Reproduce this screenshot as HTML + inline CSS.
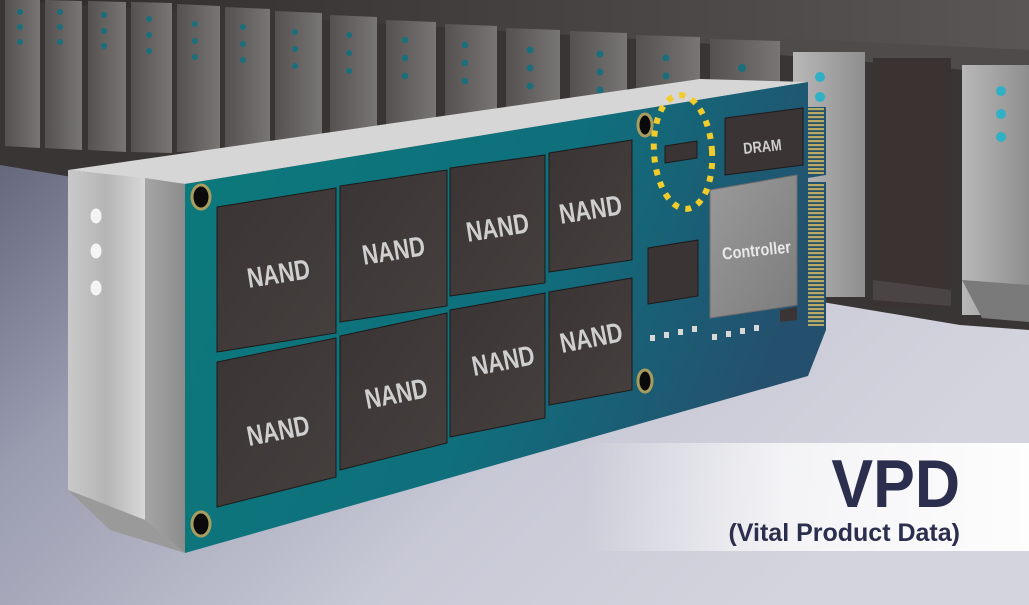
<!DOCTYPE html>
<html><head><meta charset="utf-8"><style>
html,body{margin:0;padding:0;width:1029px;height:605px;overflow:hidden;background:#c8c9d4}
svg{display:block}
text{font-family:"Liberation Sans",sans-serif;font-weight:bold}
</style></head><body>
<svg width="1029" height="605" viewBox="0 0 1029 605" xmlns="http://www.w3.org/2000/svg">
<defs>
<linearGradient id="floor" x1="0" y1="0" x2="1" y2="0.6">
<stop offset="0" stop-color="#4a4d62"/><stop offset="0.35" stop-color="#9a9cb0"/><stop offset="0.7" stop-color="#c8c9d6"/><stop offset="1" stop-color="#d4d4de"/>
</linearGradient>
<linearGradient id="ceil" x1="0" y1="0" x2="1" y2="0">
<stop offset="0" stop-color="#302b2b"/><stop offset="1" stop-color="#5a5656"/>
</linearGradient>
<linearGradient id="slat" x1="0" y1="0" x2="1" y2="0">
<stop offset="0" stop-color="#555151"/><stop offset="1" stop-color="#787575"/>
</linearGradient>
<linearGradient id="slatR" x1="0" y1="0" x2="1" y2="0">
<stop offset="0" stop-color="#b8b8b8"/><stop offset="1" stop-color="#8e8e8e"/>
</linearGradient>
<linearGradient id="pcb" x1="0" y1="0" x2="1" y2="0.3">
<stop offset="0" stop-color="#0c7a7c"/><stop offset="0.6" stop-color="#0f6f7c"/><stop offset="1" stop-color="#24506e"/>
</linearGradient>
<linearGradient id="metal" x1="0" y1="0" x2="1" y2="0">
<stop offset="0" stop-color="#c9c9c9"/><stop offset="0.5" stop-color="#b5b5b5"/><stop offset="1" stop-color="#d8d8d8"/>
</linearGradient>
<linearGradient id="metal2" x1="0" y1="0" x2="1" y2="0">
<stop offset="0" stop-color="#a5a5a5"/><stop offset="1" stop-color="#8c8c8c"/>
</linearGradient>
<linearGradient id="chip" x1="0" y1="0" x2="1" y2="1">
<stop offset="0" stop-color="#3a3534"/><stop offset="1" stop-color="#453f3e"/>
</linearGradient>
<linearGradient id="vpd" x1="0" y1="0" x2="1" y2="0">
<stop offset="0" stop-color="#ffffff" stop-opacity="0"/><stop offset="0.45" stop-color="#ffffff" stop-opacity="0.75"/><stop offset="1" stop-color="#ffffff" stop-opacity="0.95"/>
</linearGradient>
<linearGradient id="ctrl" x1="0" y1="0" x2="1" y2="1">
<stop offset="0" stop-color="#9a9a9a"/><stop offset="1" stop-color="#7c7c7c"/>
</linearGradient>
<pattern id="fing" width="6" height="4" patternUnits="userSpaceOnUse">
<rect width="6" height="4" fill="#2a4f68"/><rect width="6" height="2.2" fill="#b7ab63"/>
</pattern>
</defs>

<rect width="1029" height="605" fill="url(#floor)"/>
<polygon points="0,0 1029,0 1029,330 960,325 870,310 0,165" fill="#3a3535"/>
<polygon points="0,0 1029,0 1029,70 780,48 0,0" fill="url(#ceil)"/>
<g fill="url(#slat)">
<polygon points="5,0 40,0 40,148 5,146"/>
<polygon points="45,0 82,1 82,150 45,148"/>
<polygon points="88,1 126,2 126,152 88,150"/>
<polygon points="131,2 172,3 172,153 131,152"/>
<polygon points="177,4 220,6 220,150 177,152"/>
<polygon points="225,7 270,9 270,147 225,149"/>
<polygon points="275,11 322,13 322,144 275,146"/>
<polygon points="330,15 377,17 377,140 330,142"/>
<polygon points="386,20 436,22 436,140 386,140"/>
<polygon points="445,24 497,26 497,140 445,140"/>
<polygon points="506,28 560,30 560,140 506,140"/>
<polygon points="570,31 627,33 627,140 570,140"/>
<polygon points="636,35 700,37 700,140 636,140"/>
<polygon points="710,39 780,41 780,140 710,140"/>
</g>
<polygon points="780,38 1029,50 1029,75 780,55" fill="#4f4b4b"/>
<rect x="793" y="52" width="72" height="245" fill="url(#slatR)"/>
<rect x="873" y="58" width="78" height="248" fill="#3b3332"/>
<polygon points="873,280 951,290 951,306 873,300" fill="#4a4444"/>
<rect x="962" y="65" width="67" height="250" fill="url(#slatR)"/>
<polygon points="962,280 1029,285 1029,322 982,318" fill="#7a7a7a"/>
<g fill="#1b6f7a">
<circle cx="20" cy="12" r="3"/><circle cx="20" cy="27" r="3"/><circle cx="20" cy="42" r="3"/>
<circle cx="60" cy="12" r="3"/><circle cx="60" cy="27" r="3"/><circle cx="60" cy="42" r="3"/>
<circle cx="104" cy="15" r="3"/><circle cx="104" cy="31" r="3"/><circle cx="104" cy="46" r="3"/>
<circle cx="149" cy="19" r="3"/><circle cx="149" cy="35" r="3"/><circle cx="149" cy="51" r="3"/>
<circle cx="195" cy="24" r="3"/><circle cx="195" cy="41" r="3"/><circle cx="195" cy="57" r="3"/>
<circle cx="243" cy="27" r="3"/><circle cx="243" cy="44" r="3"/><circle cx="243" cy="60" r="3"/>
<circle cx="295" cy="32" r="3"/><circle cx="295" cy="49" r="3"/><circle cx="295" cy="66" r="3"/>
<circle cx="349" cy="35" r="3"/><circle cx="349" cy="53" r="3"/><circle cx="349" cy="71" r="3"/>
<circle cx="405" cy="40" r="3.3"/><circle cx="405" cy="58" r="3.3"/><circle cx="405" cy="76" r="3.3"/>
<circle cx="465" cy="45" r="3.3"/><circle cx="465" cy="63" r="3.3"/><circle cx="465" cy="81" r="3.3"/>
<circle cx="530" cy="50" r="3.5"/><circle cx="530" cy="68" r="3.5"/><circle cx="530" cy="86" r="3.5"/>
<circle cx="600" cy="54" r="3.5"/><circle cx="600" cy="72" r="3.5"/><circle cx="600" cy="90" r="3.5"/>
<circle cx="666" cy="58" r="3.5"/><circle cx="666" cy="76" r="3.5"/>
<circle cx="742" cy="68" r="4"/><circle cx="742" cy="87" r="4"/>
</g>
<g fill="#2fb0c4">
<circle cx="820" cy="77" r="5"/><circle cx="820" cy="97" r="5"/>
<circle cx="1001" cy="91" r="5"/><circle cx="1001" cy="114" r="5"/><circle cx="1001" cy="137" r="5"/>
</g>

<polygon points="68,170 185,184 808,82 700,79" fill="#d6d6d6"/>
<polygon points="68,170 145,178 145,520 68,490" fill="url(#metal)"/>
<polygon points="145,178 185,184 185,553 145,520" fill="url(#metal2)"/>
<polygon points="68,490 145,520 185,553 110,530" fill="#9a9a9a"/>
<g fill="#f4f4f4"><ellipse cx="96" cy="216" rx="5.5" ry="7.5"/><ellipse cx="96" cy="251" rx="5.5" ry="7.5"/><ellipse cx="96" cy="288" rx="5.5" ry="7.5"/></g>

<polygon points="185,184 808,82 808,107 826,107 826,175 808,178 808,182 826,182 826,330 808,376 185,553" fill="url(#pcb)"/>
<rect x="808" y="108" width="16" height="66" fill="url(#fing)"/>
<rect x="808" y="184" width="16" height="142" fill="url(#fing)"/>

<g stroke="#a89c5e" stroke-width="3" fill="#0a0a0a">
<ellipse cx="201" cy="197" rx="9" ry="12"/>
<ellipse cx="645" cy="125" rx="7" ry="11"/>
<ellipse cx="645" cy="381" rx="7" ry="11"/>
<ellipse cx="201" cy="524" rx="9" ry="12"/>
</g>

<g fill="url(#chip)" stroke="#1e1a1a" stroke-width="1">
<polygon points="217,207 336,188 336,333 217,352"/>
<polygon points="340,186 447,170 447,306 340,322"/>
<polygon points="450,168 545,155 545,283 450,296"/>
<polygon points="549,153 632,140 632,260 549,272"/>
<polygon points="217,362 336,338 336,477 217,507"/>
<polygon points="340,336 447,313 447,443 340,470"/>
<polygon points="450,310 545,293 545,418 450,437"/>
<polygon points="549,292 632,278 632,390 549,405"/>
</g>
<g fill="#cfcfcf" font-size="28" text-anchor="middle">
<text transform="translate(280,283) rotate(-9) scale(0.78,1)">NAND</text>
<text transform="translate(395,260) rotate(-9) scale(0.78,1)">NAND</text>
<text transform="translate(499,237) rotate(-9) scale(0.78,1)">NAND</text>
<text transform="translate(592,219) rotate(-9) scale(0.78,1)">NAND</text>
<text transform="translate(280,440) rotate(-11) scale(0.78,1)">NAND</text>
<text transform="translate(398,403) rotate(-11) scale(0.78,1)">NAND</text>
<text transform="translate(505,370) rotate(-11) scale(0.78,1)">NAND</text>
<text transform="translate(593,347) rotate(-11) scale(0.78,1)">NAND</text>
</g>

<polygon points="725,118 803,108 803,165 725,175" fill="#3a3534" stroke="#1e1a1a"/>
<text transform="translate(763,152) rotate(-6) scale(0.8,1)" fill="#cfcfcf" font-size="16" text-anchor="middle">DRAM</text>
<polygon points="665,146 697,141 697,158 665,163" fill="#3a3534" stroke="#1e1a1a"/>
<polygon points="710,190 797,175 797,305 710,318" fill="url(#ctrl)" stroke="#6e6e6e"/>
<text transform="translate(757,256) rotate(-6) scale(0.85,1)" fill="#e8e8e8" font-size="17" text-anchor="middle">Controller</text>
<polygon points="648,248 698,240 698,296 648,304" fill="#3a3534" stroke="#1e1a1a"/>
<polygon points="780,310 797,307 797,320 780,322" fill="#3a3534"/>
<g fill="#d8d8d8">
<rect x="650" y="335" width="5" height="6"/><rect x="664" y="332" width="5" height="6"/><rect x="678" y="329" width="5" height="6"/><rect x="692" y="326" width="5" height="6"/>
<rect x="712" y="334" width="5" height="6"/><rect x="726" y="331" width="5" height="6"/><rect x="740" y="328" width="5" height="6"/><rect x="754" y="325" width="5" height="6"/>
</g>
<ellipse cx="683" cy="152" rx="29" ry="57" transform="rotate(-4 683 152)" fill="none" stroke="#f2cc2a" stroke-width="6" stroke-dasharray="6 7"/>

<rect x="585" y="443" width="444" height="108" fill="url(#vpd)"/>
<text transform="translate(960,507) scale(0.92,1)" fill="#2b2e4d" font-size="68" text-anchor="end">VPD</text>
<text transform="translate(960,541) scale(1,1)" fill="#2b2e4d" font-size="25" text-anchor="end">(Vital Product Data)</text>
</svg>
</body></html>
